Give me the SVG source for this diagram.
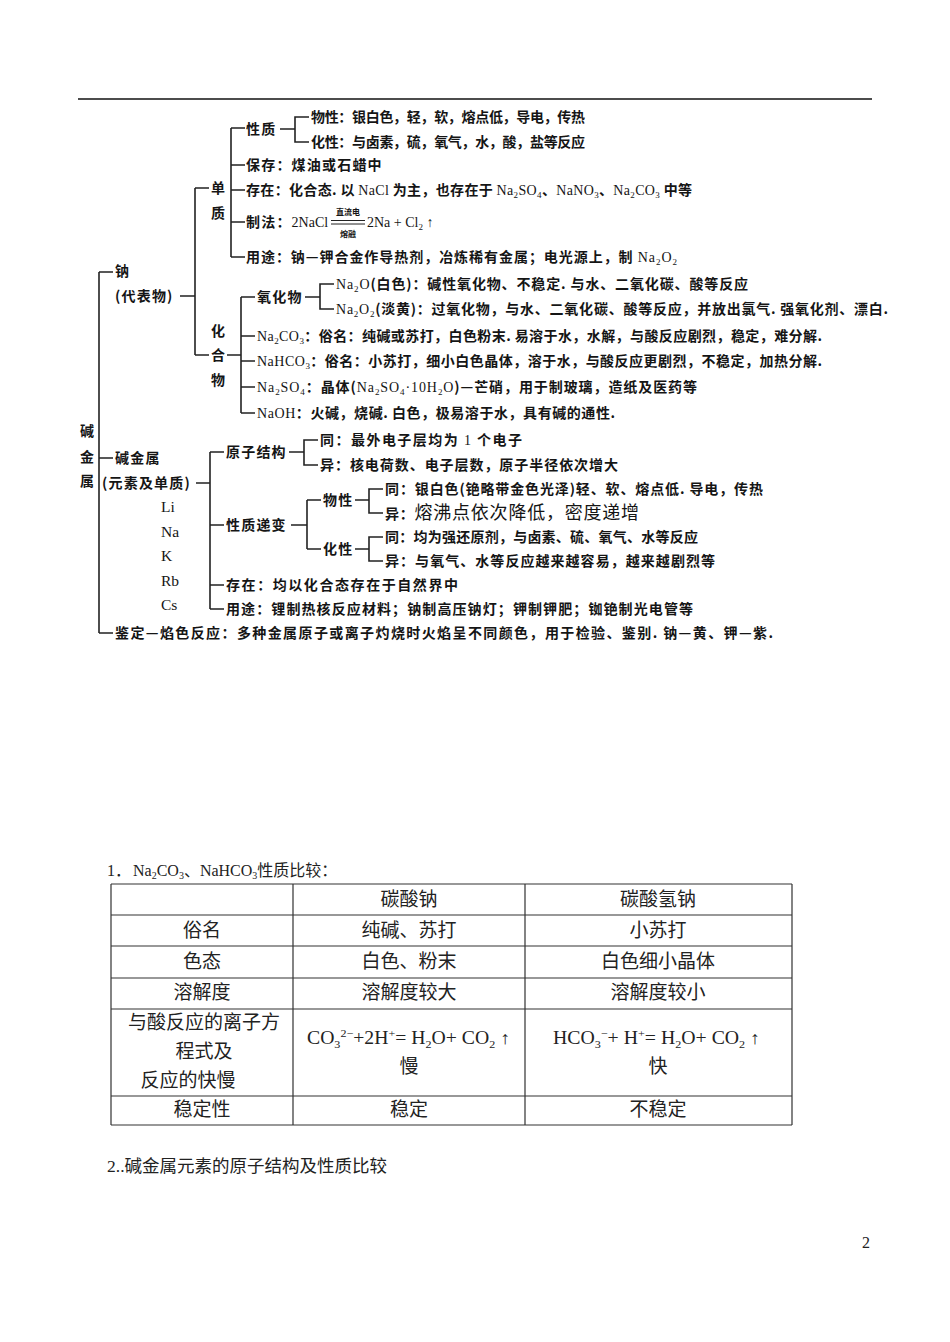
<svg xmlns="http://www.w3.org/2000/svg" width="950" height="1342" viewBox="0 0 950 1342">
<style>
.t{font-family:"Noto Sans CJK SC","Noto Sans CJK JP",sans-serif;font-size:14px;font-weight:bold;letter-spacing:1.2px;fill:#151515}
.w{letter-spacing:0}
.l{font-family:"Liberation Serif",serif;font-weight:normal;letter-spacing:0}
.sb{font-size:9px;baseline-shift:-3px}
.el{font-family:"Liberation Serif",serif;font-size:15.5px;fill:#151515}
.c{fill:none;stroke:#222;stroke-width:1.6}
.tb{fill:none;stroke:#333;stroke-width:1.2}
.d{font-family:"Liberation Serif","Noto Sans CJK SC",serif;font-size:18px;fill:#222}
.k{font-family:"Noto Sans CJK SC",sans-serif;font-size:19px;font-weight:normal;fill:#222;text-anchor:middle}
.tiny{font-family:"Noto Sans CJK SC",sans-serif;font-size:8px;font-weight:bold;fill:#151515;text-anchor:middle}
</style>
<rect width="950" height="1342" fill="#fff"/>
<line x1="78" y1="99" x2="872" y2="99" stroke="#111" stroke-width="1.5"/>

<g id="connectors">
<path class="c" d="M99,272 V633 M99,272 H113 M99,458 H113 M99,633 H113"/>
<path class="c" d="M180,296 H195 M195,188 V355 M195,188 H209 M195,355 H209"/>
<path class="c" d="M231,128 V257 M231,128 H245 M231,165 H245 M231,190 H245 M231,222 H245 M231,257 H245"/>
<path class="c" d="M280,129 H295 M309,117 H295 V142 H309"/>
<path class="c" d="M227,355 H241 M241,297 V413 M241,297 H255 M241,336 H255 M241,361 H255 M241,387 H255 M241,413 H255"/>
<path class="c" d="M305,297 H320 M334,284 H320 V309 H334"/>
<path class="c" d="M196,483 H210 M210,452 V609 M210,452 H224 M210,525 H224 M210,585 H224 M210,609 H224"/>
<path class="c" d="M289,452 H304 M318,440 H304 V465 H318"/>
<path class="c" d="M291,525 H307 M307,500 V549 M307,500 H321 M307,549 H321"/>
<path class="c" d="M355,500 H369 M383,489 H369 V513 H383 M355,549 H369 M383,537 H369 V561 H383"/>
</g>

<g id="n-root"><text class="t" x="80" y="436">碱</text><text class="t" x="80" y="462">金</text><text class="t" x="80" y="486">属</text></g>
<g id="n-na"><text class="t" x="115" y="276">钠</text><text class="t" x="115" y="301">(代表物)</text></g>
<g id="n-dan"><text class="t" x="211" y="193">单</text><text class="t" x="211" y="218">质</text></g>
<g id="n-xingzhi"><text class="t" x="246" y="134">性质</text></g>
<g id="n-wuxing1"><text class="t w" x="311" y="122" textLength="274" lengthAdjust="spacing">物性：银白色，轻，软，熔点低，导电，传热</text></g>
<g id="n-huaxing1"><text class="t w" x="311" y="147" textLength="274" lengthAdjust="spacing">化性：与卤素，硫，氧气，水，酸，盐等反应</text></g>
<g id="n-baocun"><text class="t" x="246" y="170">保存：煤油或石蜡中</text></g>
<g id="n-cunzai1"><text class="t w" x="246" y="195" textLength="446" lengthAdjust="spacing">存在：化合态. 以 <tspan class="l">NaCl</tspan> 为主，也存在于 <tspan class="l">Na<tspan class="sb">2</tspan>SO<tspan class="sb">4</tspan></tspan>、<tspan class="l">NaNO<tspan class="sb">3</tspan></tspan>、<tspan class="l">Na<tspan class="sb">2</tspan>CO<tspan class="sb">3</tspan></tspan> 中等</text></g>
<g id="n-zhifa">
<text class="t" x="246" y="227">制法：<tspan class="l">2NaCl</tspan></text>
<path d="M331,220.5 H365 M331,224 H365" stroke="#222" stroke-width="1" fill="none"/>
<text class="tiny" x="348" y="215">直流电</text>
<text class="tiny" x="348" y="237">熔融</text>
<text class="t" x="367" y="227"><tspan class="l">2Na + Cl<tspan class="sb">2</tspan> ↑</tspan></text>
</g>
<g id="n-yongtu1"><text class="t w" x="246" y="262" textLength="431" lengthAdjust="spacing">用途：钠—钾合金作导热剂，冶炼稀有金属；电光源上，制 <tspan class="l">Na<tspan class="sb">2</tspan>O<tspan class="sb">2</tspan></tspan></text></g>
<g id="n-huahewu"><text class="t" x="211" y="336">化</text><text class="t" x="211" y="360">合</text><text class="t" x="211" y="385">物</text></g>
<g id="n-yanghuawu"><text class="t" x="257" y="302">氧化物</text></g>
<g id="n-na2o"><text class="t w" x="336" y="289" textLength="412" lengthAdjust="spacing"><tspan class="l">Na<tspan class="sb">2</tspan>O</tspan>(白色)：碱性氧化物、不稳定. 与水、二氧化碳、酸等反应</text></g>
<g id="n-na2o2"><text class="t w" x="336" y="314" textLength="552" lengthAdjust="spacing"><tspan class="l">Na<tspan class="sb">2</tspan>O<tspan class="sb">2</tspan></tspan>(淡黄)：过氧化物，与水、二氧化碳、酸等反应，并放出氯气. 强氧化剂、漂白.</text></g>
<g id="n-na2co3"><text class="t w" x="257" y="341" textLength="565" lengthAdjust="spacing"><tspan class="l">Na<tspan class="sb">2</tspan>CO<tspan class="sb">3</tspan></tspan>：俗名：纯碱或苏打，白色粉末. 易溶于水，水解，与酸反应剧烈，稳定，难分解.</text></g>
<g id="n-nahco3"><text class="t w" x="257" y="366" textLength="565" lengthAdjust="spacing"><tspan class="l">NaHCO<tspan class="sb">3</tspan></tspan>：俗名：小苏打，细小白色晶体，溶于水，与酸反应更剧烈，不稳定，加热分解.</text></g>
<g id="n-na2so4"><text class="t w" x="257" y="392" textLength="440" lengthAdjust="spacing"><tspan class="l">Na<tspan class="sb">2</tspan>SO<tspan class="sb">4</tspan></tspan>：晶体(<tspan class="l">Na<tspan class="sb">2</tspan>SO<tspan class="sb">4</tspan>·10H<tspan class="sb">2</tspan>O</tspan>)—芒硝，用于制玻璃，造纸及医药等</text></g>
<g id="n-naoh"><text class="t w" x="257" y="418" textLength="358" lengthAdjust="spacing"><tspan class="l">NaOH</tspan>：火碱，烧碱. 白色，极易溶于水，具有碱的通性.</text></g>

<g id="n-jjs"><text class="t" x="115" y="463">碱金属</text><text class="t" x="102" y="488">(元素及单质)</text></g>
<g id="n-elements">
<text class="el" x="161" y="512">Li</text>
<text class="el" x="161" y="537">Na</text>
<text class="el" x="161" y="561">K</text>
<text class="el" x="161" y="586">Rb</text>
<text class="el" x="161" y="610">Cs</text>
</g>
<g id="n-yuanzi"><text class="t" x="226" y="457">原子结构</text></g>
<g id="n-tong1"><text class="t w" x="320" y="445" textLength="202" lengthAdjust="spacing">同：最外电子层均为 <tspan class="l">1</tspan> 个电子</text></g>
<g id="n-yi1"><text class="t w" x="320" y="470" textLength="298" lengthAdjust="spacing">异：核电荷数、电子层数，原子半径依次增大</text></g>
<g id="n-dibian"><text class="t" x="226" y="530">性质递变</text></g>
<g id="n-wuxing2"><text class="t" x="323" y="505">物性</text></g>
<g id="n-tong2"><text class="t w" x="385" y="494" textLength="378" lengthAdjust="spacing">同：银白色(铯略带金色光泽)轻、软、熔点低. 导电，传热</text></g>
<g id="n-yi2"><text class="t w" x="385" y="519" textLength="254" lengthAdjust="spacing">异：<tspan style="font-weight:normal;font-size:18px">熔沸点依次降低，密度递增</tspan></text></g>
<g id="n-huaxing2"><text class="t" x="323" y="554">化性</text></g>
<g id="n-tong3"><text class="t w" x="385" y="542" textLength="313" lengthAdjust="spacing">同：均为强还原剂，与卤素、硫、氧气、水等反应</text></g>
<g id="n-yi3"><text class="t w" x="385" y="566" textLength="330" lengthAdjust="spacing">异：与氧气、水等反应越来越容易，越来越剧烈等</text></g>
<g id="n-cunzai2"><text class="t w" x="226" y="590" textLength="232" lengthAdjust="spacing">存在：均以化合态存在于自然界中</text></g>
<g id="n-yongtu2"><text class="t w" x="226" y="614" textLength="467" lengthAdjust="spacing">用途：锂制热核反应材料；钠制高压钠灯；钾制钾肥；铷铯制光电管等</text></g>
<g id="n-jianding"><text class="t w" x="115" y="638" textLength="658" lengthAdjust="spacing">鉴定—焰色反应：多种金属原子或离子灼烧时火焰呈不同颜色，用于检验、鉴别. 钠—黄、钾—紫.</text></g>

<g id="heading1"><text class="d" x="107" y="876" style="font-size:16px">1．<tspan x="133">Na<tspan style="font-size:10px" baseline-shift="-3">2</tspan>CO<tspan style="font-size:10px" baseline-shift="-3">3</tspan>、NaHCO<tspan style="font-size:10px" baseline-shift="-3">3</tspan>性质比较：</tspan></text></g>

<g id="table">
<path class="tb" d="M111,884 H792 M111,915 H792 M111,946 H792 M111,978 H792 M111,1009 H792 M111,1096 H792 M111,1125 H792 M111,884 V1125 M293,884 V1125 M525,884 V1125 M792,884 V1125"/>
<text class="k" x="409" y="906">碳酸钠</text>
<text class="k" x="658" y="906">碳酸氢钠</text>
<text class="k" x="202" y="937">俗名</text>
<text class="k" x="409" y="937">纯碱、苏打</text>
<text class="k" x="658" y="937">小苏打</text>
<text class="k" x="202" y="968">色态</text>
<text class="k" x="409" y="968">白色、粉末</text>
<text class="k" x="658" y="968">白色细小晶体</text>
<text class="k" x="202" y="999">溶解度</text>
<text class="k" x="409" y="999">溶解度较大</text>
<text class="k" x="658" y="999">溶解度较小</text>
<text class="k" x="204" y="1029">与酸反应的离子方</text>
<text class="k" x="204" y="1058">程式及</text>
<text class="k" x="188" y="1087">反应的快慢</text>
<text class="d" x="307" y="1044" textLength="203" lengthAdjust="spacingAndGlyphs">CO<tspan style="font-size:11px" baseline-shift="-4">3</tspan><tspan style="font-size:11px" baseline-shift="7">2−</tspan>+2H<tspan style="font-size:11px" baseline-shift="7">+</tspan>= H<tspan style="font-size:11px" baseline-shift="-4">2</tspan>O+ CO<tspan style="font-size:11px" baseline-shift="-4">2</tspan> ↑</text>
<text class="k" x="409" y="1073">慢</text>
<text class="d" x="553" y="1044" textLength="207" lengthAdjust="spacingAndGlyphs">HCO<tspan style="font-size:11px" baseline-shift="-4">3</tspan><tspan style="font-size:11px" baseline-shift="7">−</tspan>+ H<tspan style="font-size:11px" baseline-shift="7">+</tspan>= H<tspan style="font-size:11px" baseline-shift="-4">2</tspan>O+ CO<tspan style="font-size:11px" baseline-shift="-4">2</tspan> ↑</text>
<text class="k" x="658" y="1073">快</text>
<text class="k" x="202" y="1116">稳定性</text>
<text class="k" x="409" y="1116">稳定</text>
<text class="k" x="658" y="1116">不稳定</text>
</g>

<g id="heading2"><text class="d" x="107" y="1172" style="font-size:17.5px">2..碱金属元素的原子结构及性质比较</text></g>
<text class="d" x="862" y="1248" style="font-size:16px">2</text>
</svg>
